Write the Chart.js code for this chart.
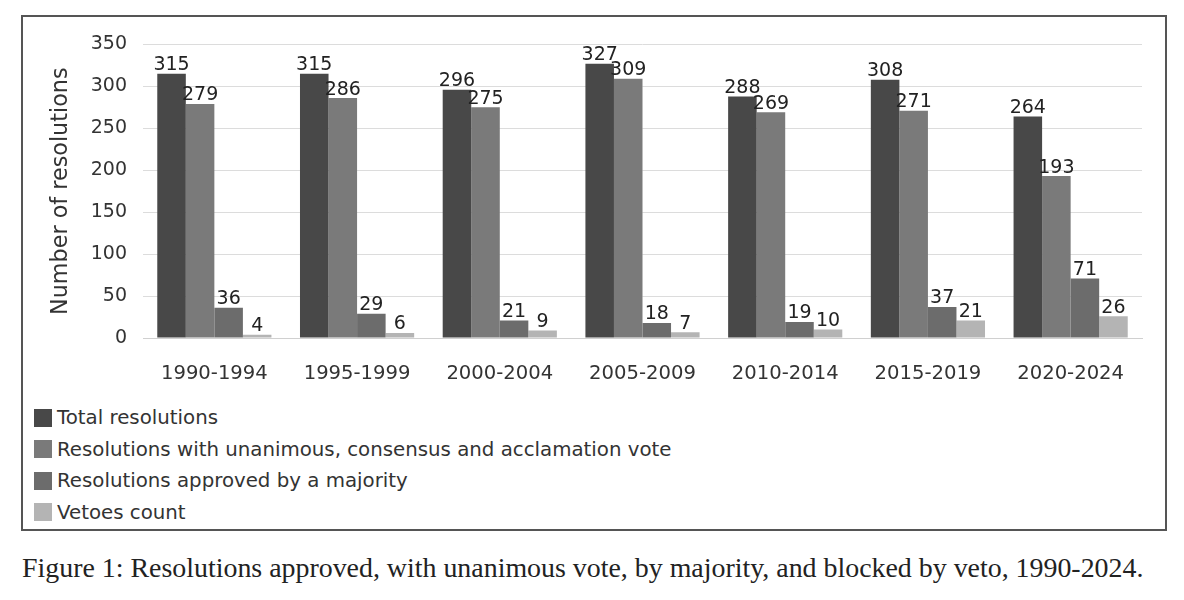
<!DOCTYPE html>
<html>
<head>
<meta charset="utf-8">
<script src="https://cdn.jsdelivr.net/npm/chart.js@4"></script>
<style>
  body { margin: 0; background: #fff; width: 1184px; height: 600px; position: relative; overflow: hidden; }
  #box { position: absolute; left: 21px; top: 15px; width: 1142px; height: 512px; border: 2px solid #555; }
  #chart { position: absolute; left: 0; top: 0; }
  #legend { position: absolute; left: 11px; top: 385px; font-family: "DejaVu Sans", sans-serif; font-size: 19.8px; color: #333; }
  #legend div { height: 31.5px; display: flex; align-items: center; }
  #legend span.sw { display: inline-block; width: 18px; height: 18px; margin-right: 5px; }
  #caption { position: absolute; left: 22px; top: 552px; font-family: "Liberation Serif", serif; font-size: 27.9px; color: #222; white-space: nowrap; }
</style>
</head>
<body>
<div id="box">
  <canvas id="chart" width="1142" height="380"></canvas>
  <div id="legend"></div>
</div>
<div id="caption">Figure 1: Resolutions approved, with unanimous vote, by majority, and blocked by veto, 1990-2024.</div>
<script>
const periods = ['1990-1994', '1995-1999', '2000-2004', '2005-2009', '2010-2014', '2015-2019', '2020-2024'];
const totalResolutions = [315, 315, 296, 327, 288, 308, 264];
const unanimousResolutions = [279, 286, 275, 309, 269, 271, 193];
const majorityResolutions = [36, 29, 21, 18, 19, 37, 71];
const vetoesCount = [4, 6, 9, 7, 10, 21, 26];
const seriesNames = [
  'Total resolutions',
  'Resolutions with unanimous, consensus and acclamation vote',
  'Resolutions approved by a majority',
  'Vetoes count'
];
const seriesColors = ['#484848', '#7a7a7a', '#6c6c6c', '#b4b4b4'];

const fontFamily = '"DejaVu Sans", sans-serif';

// draws the value above each bar
const barLabels = {
  id: 'barLabels',
  afterDatasetsDraw(chart) {
    const ctx = chart.ctx;
    ctx.save();
    ctx.font = '19px ' + fontFamily;
    ctx.fillStyle = '#222';
    ctx.textAlign = 'center';
    ctx.textBaseline = 'bottom';
    chart.data.datasets.forEach((ds, i) => {
      chart.getDatasetMeta(i).data.forEach((bar, j) => {
        ctx.fillText(ds.data[j], bar.x, bar.y + 1);
      });
    });
    ctx.restore();
  }
};

const dataSets = [totalResolutions, unanimousResolutions, majorityResolutions, vetoesCount].map((values, i) => ({
  label: seriesNames[i],
  data: values,
  backgroundColor: seriesColors[i],
  categoryPercentage: 0.8,
  barPercentage: 1.0
}));

const chart = new Chart(document.getElementById('chart').getContext('2d'), {
  type: 'bar',
  data: { labels: periods, datasets: dataSets },
  options: {
    responsive: false,
    animation: false,
    layout: { padding: { left: 25, right: 23, top: 26, bottom: 0 } },
    plugins: {
      legend: { display: false },
      tooltip: { enabled: false }
    },
    scales: {
      x: {
        grid: { display: false },
        border: { color: '#d0d0d0' },
        ticks: { color: '#333', font: { family: fontFamily, size: 19.6 }, padding: 16 },
        afterFit(scale) { scale.height = 59; }
      },
      y: {
        min: 0,
        max: 350,
        ticks: { stepSize: 50, color: '#333', font: { family: fontFamily, size: 19 }, padding: 16 },
        grid: { color: '#dcdcdc', drawTicks: false },
        border: { display: false },
        title: { display: true, text: 'Number of resolutions', color: '#333', font: { family: fontFamily, size: 22.3 }, padding: 0 },
        afterFit(scale) { scale.width = 95; }
      }
    }
  },
  plugins: [barLabels]
});

// legend as html, one row per series
const legendBox = document.getElementById('legend');
chart.data.datasets.forEach(ds => {
  const row = document.createElement('div');
  const sw = document.createElement('span');
  sw.className = 'sw';
  sw.style.background = ds.backgroundColor;
  row.appendChild(sw);
  row.appendChild(document.createTextNode(ds.label));
  legendBox.appendChild(row);
});
</script>
</body>
</html>
